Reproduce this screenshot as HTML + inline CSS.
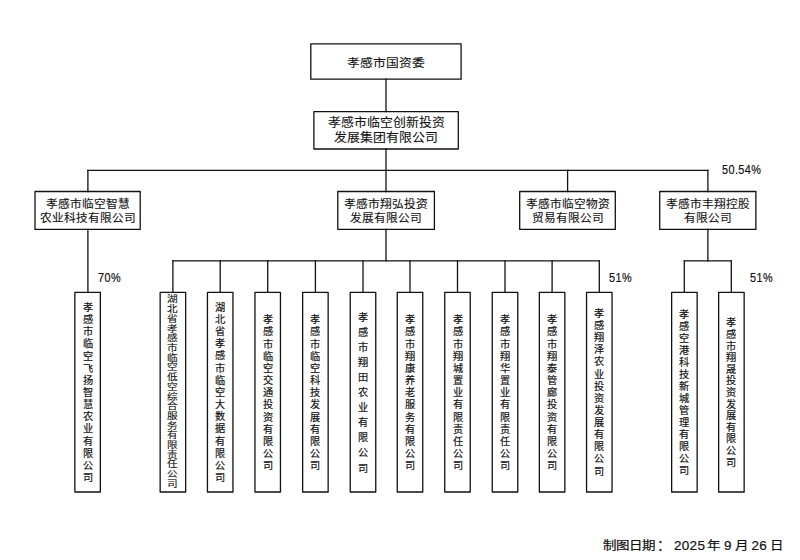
<!DOCTYPE html>
<html lang="zh-CN"><head><meta charset="utf-8"><style>
html,body{margin:0;padding:0;background:#fff;}
body{width:800px;height:560px;position:relative;overflow:hidden;font-family:"Liberation Sans",sans-serif;color:#111;}
svg{position:absolute;left:0;top:0;}
.t{position:absolute;display:flex;align-items:center;justify-content:center;text-align:center;-webkit-text-stroke:0.25px #111;}
.ln{position:absolute;width:300px;text-align:center;white-space:nowrap;transform-origin:50% 50%;}
.sq span{display:block;transform:scaleY(0.82);}
.p{position:absolute;font-size:12.6px;line-height:14px;white-space:nowrap;-webkit-text-stroke:0.2px #111;transform:scaleX(0.86);transform-origin:0 50%;letter-spacing:0.5px;}
.d{position:absolute;top:537px;font-size:13.5px;line-height:18px;white-space:nowrap;-webkit-text-stroke:0.2px #111;}
.dc{transform:scaleY(0.9);transform-origin:50% 80%;}
</style></head><body>
<svg width="800" height="560" viewBox="0 0 800 560"><g fill="none" stroke="#111" stroke-width="1.3" stroke-linejoin="round" stroke-linecap="square">
<rect x="310.8" y="43.8" width="150.3" height="35.400000000000006"/>
<line x1="386.0" y1="79.2" x2="386.0" y2="111.6"/>
<rect x="313.9" y="111.6" width="144.40000000000003" height="37.400000000000006"/>
<line x1="386.0" y1="149.0" x2="386.0" y2="170.3"/>
<line x1="87.9" y1="170.3" x2="707.9" y2="170.3"/>
<line x1="87.9" y1="170.3" x2="87.9" y2="191.5"/>
<line x1="386.0" y1="170.3" x2="386.0" y2="191.5"/>
<line x1="567.6" y1="170.3" x2="567.6" y2="191.5"/>
<line x1="707.9" y1="170.3" x2="707.9" y2="191.5"/>
<rect x="35.0" y="191.5" width="105.19999999999999" height="37.900000000000006"/>
<rect x="337.8" y="191.5" width="96.59999999999997" height="37.900000000000006"/>
<rect x="519.7" y="191.5" width="95.59999999999991" height="37.900000000000006"/>
<rect x="659.7" y="191.5" width="96.19999999999993" height="37.900000000000006"/>
<line x1="87.9" y1="229.4" x2="87.9" y2="292.3"/>
<line x1="386.0" y1="229.4" x2="386.0" y2="260.8"/>
<line x1="172.9" y1="260.8" x2="599.3" y2="260.8"/>
<line x1="172.9" y1="260.8" x2="172.9" y2="292.3"/>
<line x1="220.2" y1="260.8" x2="220.2" y2="292.3"/>
<line x1="267.7" y1="260.8" x2="267.7" y2="292.3"/>
<line x1="315.4" y1="260.8" x2="315.4" y2="292.3"/>
<line x1="363" y1="260.8" x2="363" y2="292.3"/>
<line x1="410" y1="260.8" x2="410" y2="292.3"/>
<line x1="457.5" y1="260.8" x2="457.5" y2="292.3"/>
<line x1="505" y1="260.8" x2="505" y2="292.3"/>
<line x1="552.1" y1="260.8" x2="552.1" y2="292.3"/>
<line x1="599.3" y1="260.8" x2="599.3" y2="292.3"/>
<line x1="707.9" y1="229.4" x2="707.9" y2="260.8"/>
<line x1="684.3" y1="260.8" x2="731.3" y2="260.8"/>
<line x1="684.3" y1="260.8" x2="684.3" y2="292.3"/>
<line x1="731.3" y1="260.8" x2="731.3" y2="292.3"/>
<rect x="74.85" y="292.3" width="25.5" height="199.7"/>
<rect x="160.15" y="292.3" width="25.5" height="199.7"/>
<rect x="207.45" y="292.3" width="25.5" height="199.7"/>
<rect x="254.95" y="292.3" width="25.5" height="199.7"/>
<rect x="302.65" y="292.3" width="25.5" height="199.7"/>
<rect x="350.25" y="292.3" width="25.5" height="199.7"/>
<rect x="397.25" y="292.3" width="25.5" height="199.7"/>
<rect x="444.75" y="292.3" width="25.5" height="199.7"/>
<rect x="492.25" y="292.3" width="25.5" height="199.7"/>
<rect x="539.35" y="292.3" width="25.5" height="199.7"/>
<rect x="586.55" y="292.3" width="25.5" height="199.7"/>
<rect x="671.65" y="292.3" width="25.5" height="199.7"/>
<rect x="718.65" y="292.3" width="25.5" height="199.7"/>
</g></svg>
<div class="ln" style="left:236.10px;top:56.60px;font-size:12.8px;line-height:12.8px;transform:scaleY(0.93);-webkit-text-stroke:0.1px #111;">孝感市国资委</div>
<div class="ln" style="left:236.00px;top:117.30px;font-size:12.9px;line-height:12.9px;transform:scaleY(0.97);-webkit-text-stroke:0.1px #111;">孝感市临空创新投资</div>
<div class="ln" style="left:236.00px;top:132.00px;font-size:12.9px;line-height:12.9px;transform:scaleY(0.97);-webkit-text-stroke:0.1px #111;">发展集团有限公司</div>
<div class="ln" style="left:-62.40px;top:198.20px;font-size:11.7px;line-height:11.7px;transform:scaleY(0.96);-webkit-text-stroke:0.12px #111;">孝感市临空智慧</div>
<div class="ln" style="left:-62.40px;top:212.10px;font-size:11.7px;line-height:11.7px;transform:scaleY(0.96);-webkit-text-stroke:0.12px #111;">农业科技有限公司</div>
<div class="ln" style="left:236.10px;top:198.20px;font-size:11.7px;line-height:11.7px;transform:scaleY(0.96);-webkit-text-stroke:0.12px #111;">孝感市翔弘投资</div>
<div class="ln" style="left:236.10px;top:212.10px;font-size:11.7px;line-height:11.7px;transform:scaleY(0.96);-webkit-text-stroke:0.12px #111;">发展有限公司</div>
<div class="ln" style="left:417.50px;top:198.20px;font-size:11.7px;line-height:11.7px;transform:scaleY(0.96);-webkit-text-stroke:0.12px #111;">孝感市临空物资</div>
<div class="ln" style="left:417.50px;top:212.10px;font-size:11.7px;line-height:11.7px;transform:scaleY(0.96);-webkit-text-stroke:0.12px #111;">贸易有限公司</div>
<div class="ln" style="left:557.80px;top:198.20px;font-size:11.7px;line-height:11.7px;transform:scaleY(0.96);-webkit-text-stroke:0.12px #111;">孝感市丰翔控股</div>
<div class="ln" style="left:557.80px;top:212.10px;font-size:11.7px;line-height:11.7px;transform:scaleY(0.96);-webkit-text-stroke:0.12px #111;">有限公司</div>
<div class="t" style="left:74.85px;top:293.6px;width:25.5px;height:199px;font-size:10.2px;line-height:12.15px;-webkit-text-stroke:0.18px #111;">孝<br>感<br>市<br>临<br>空<br>飞<br>扬<br>智<br>慧<br>农<br>业<br>有<br>限<br>公<br>司</div>
<div class="t sq" style="left:160.15px;top:293px;width:25.5px;height:199px;font-size:10.6px;line-height:9.7px;-webkit-text-stroke:0.12px #111;"><div><span>湖</span><span>北</span><span>省</span><span>孝</span><span>感</span><span>市</span><span>临</span><span>空</span><span>低</span><span>空</span><span>综</span><span>合</span><span>服</span><span>务</span><span>有</span><span>限</span><span>责</span><span>任</span><span>公</span><span>司</span></div></div>
<div class="t" style="left:207.45px;top:293.5px;width:25.5px;height:199px;font-size:10.2px;line-height:12.15px;-webkit-text-stroke:0.18px #111;">湖<br>北<br>省<br>孝<br>感<br>市<br>临<br>空<br>大<br>数<br>据<br>有<br>限<br>公<br>司</div>
<div class="t" style="left:254.95px;top:293.8px;width:25.5px;height:199px;font-size:10.2px;line-height:12.15px;-webkit-text-stroke:0.18px #111;">孝<br>感<br>市<br>临<br>空<br>交<br>通<br>投<br>资<br>有<br>限<br>公<br>司</div>
<div class="t" style="left:302.65px;top:293.8px;width:25.5px;height:199px;font-size:10.2px;line-height:12.15px;-webkit-text-stroke:0.18px #111;">孝<br>感<br>市<br>临<br>空<br>科<br>技<br>发<br>展<br>有<br>限<br>公<br>司</div>
<div class="t" style="left:350.25px;top:293.3px;width:25.5px;height:199px;font-size:10.2px;line-height:15.05px;-webkit-text-stroke:0.18px #111;">孝<br>感<br>市<br>翔<br>田<br>农<br>业<br>有<br>限<br>公<br>司</div>
<div class="t" style="left:397.25px;top:293.8px;width:25.5px;height:199px;font-size:10.2px;line-height:12.15px;-webkit-text-stroke:0.18px #111;">孝<br>感<br>市<br>翔<br>康<br>养<br>老<br>服<br>务<br>有<br>限<br>公<br>司</div>
<div class="t" style="left:444.75px;top:293.8px;width:25.5px;height:199px;font-size:10.2px;line-height:12.15px;-webkit-text-stroke:0.18px #111;">孝<br>感<br>市<br>翔<br>城<br>置<br>业<br>有<br>限<br>责<br>任<br>公<br>司</div>
<div class="t" style="left:492.25px;top:293.8px;width:25.5px;height:199px;font-size:10.2px;line-height:12.15px;-webkit-text-stroke:0.18px #111;">孝<br>感<br>市<br>翔<br>华<br>置<br>业<br>有<br>限<br>责<br>任<br>公<br>司</div>
<div class="t" style="left:539.35px;top:293.8px;width:25.5px;height:199px;font-size:10.2px;line-height:12.15px;-webkit-text-stroke:0.18px #111;">孝<br>感<br>市<br>翔<br>泰<br>管<br>廊<br>投<br>资<br>有<br>限<br>公<br>司</div>
<div class="t" style="left:586.55px;top:293.3px;width:25.5px;height:199px;font-size:10.2px;line-height:12.12px;-webkit-text-stroke:0.18px #111;">孝<br>感<br>翔<br>泽<br>农<br>业<br>投<br>资<br>发<br>展<br>有<br>限<br>公<br>司</div>
<div class="t" style="left:671.65px;top:293.6px;width:25.5px;height:199px;font-size:10.2px;line-height:12.05px;-webkit-text-stroke:0.18px #111;">孝<br>感<br>空<br>港<br>科<br>技<br>新<br>城<br>管<br>理<br>有<br>限<br>公<br>司</div>
<div class="t" style="left:718.65px;top:293.3px;width:25.5px;height:199px;font-size:10.2px;line-height:11.6px;-webkit-text-stroke:0.18px #111;">孝<br>感<br>市<br>翔<br>晟<br>投<br>资<br>发<br>展<br>有<br>限<br>公<br>司</div>
<div class="p" style="left:721.5px;top:162.5px">50.54%</div><div class="p" style="left:98px;top:271px">70%</div><div class="p" style="left:608.5px;top:271px">51%</div><div class="p" style="left:749.5px;top:271px">51%</div>
<div class="d dc" style="left:602.5px">制图日期</div><div class="d" style="left:656.5px">：</div><div class="d" style="left:674px;letter-spacing:0.3px">2025</div><div class="d dc" style="left:707px">年</div><div class="d" style="left:724px">9</div><div class="d dc" style="left:735px">月</div><div class="d" style="left:751.5px;letter-spacing:0.3px">26</div><div class="d dc" style="left:769.5px">日</div>
</body></html>
